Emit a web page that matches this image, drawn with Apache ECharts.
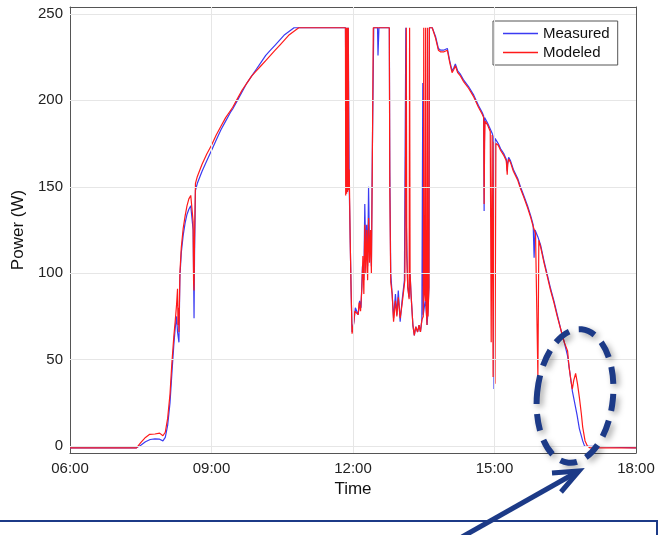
<!DOCTYPE html>
<html>
<head>
<meta charset="utf-8">
<script src="https://cdn.jsdelivr.net/npm/echarts@6/dist/echarts.min.js"></script>
<style>
html,body{margin:0;padding:0;background:#fff;}
#chart{width:662px;height:535px;}
</style>
</head>
<body>
<div id="chart"></div>
<script>
// ---- data (hour of day, power W) ----
const seriesNames = ['Measured', 'Modeled'];
const xTicks = [6, 9, 12, 15, 18];
const xTickLabels = ['06:00', '09:00', '12:00', '15:00', '18:00'];
const yTicks = [0, 50, 100, 150, 200, 250];

const measured = [
  [6.00,-1],[7.41,-1],[7.50,0.5],[7.60,2.5],[7.70,3.8],[7.80,4.2],[7.90,4.0],[7.97,3],[8.02,5],[8.07,12],
  [8.12,25],[8.16,42],[8.20,58],[8.23,68],[8.26,75],[8.28,66],[8.30,62],[8.31,60],[8.33,98],[8.36,112],
  [8.40,122],[8.44,129],[8.48,134],[8.52,137],[8.56,139],[8.59,140],[8.61,125],[8.62,100],[8.63,74],[8.64,110],
  [8.66,148],[8.70,152],[8.80,159],[8.90,165],[9.00,171],[9.10,177],[9.20,183],[9.30,188],[9.40,193],[9.45,195],
  [9.55,200],[9.65,205],[9.75,210],[9.85,214],[9.95,218],[10.05,222],[10.15,226],[10.25,229],[10.35,232],[10.45,235],
  [10.55,238],[10.65,240],[10.75,242],[11.84,242],
  [11.85,242],[11.86,150],[11.87,242],[11.89,170],[11.90,242],[11.92,150],[11.94,120],[11.96,90],[11.98,66],[12.02,72],
  [12.05,80],[12.08,78],[12.11,76],[12.14,84],[12.17,80],[12.20,104],[12.23,96],[12.25,140],[12.27,112],[12.29,128],
  [12.31,104],[12.33,150],[12.35,115],[12.37,122],[12.39,104],[12.41,170],[12.44,242],[12.52,242],[12.53,226],[12.55,242],
  [12.77,242],[12.78,160],[12.80,100],[12.83,88],[12.86,74],[12.90,88],[12.93,76],[12.96,90],[13.00,72],[13.04,84],
  [13.09,96],[13.12,242],[13.13,130],[13.16,92],[13.19,86],[13.21,100],[13.23,88],[13.27,70],[13.30,64],[13.33,69],
  [13.37,66],[13.40,70],[13.43,66],[13.46,73],[13.48,210],[13.49,76],[13.53,84],[13.55,80],[13.57,70],[13.59,78],
  [13.61,92],[13.62,242],[13.68,242],[13.75,237],[13.81,230],[13.86,229],[13.92,229],[13.96,230],[14.00,230],[14.05,223],
  [14.10,217],[14.14,219],[14.17,221],[14.22,217],[14.28,215],[14.34,212],[14.45,208],[14.56,203],[14.66,197],[14.74,193],
  [14.77,191],[14.78,136],[14.79,190],[14.85,187],[14.90,184],[14.95,181],[14.97,179],[14.99,33],[15.01,178],[15.03,177],
  [15.08,175],[15.13,172],[15.20,169],[15.25,166],[15.27,159],[15.28,164],[15.30,167],[15.34,165],[15.40,160],[15.49,155],
  [15.55,150],[15.62,145],[15.70,139],[15.77,133],[15.82,128],[15.84,109],[15.86,125],[15.92,121],[15.95,121],[15.98,116],
  [16.05,107],[16.12,99],[16.19,91],[16.26,84],[16.33,76],[16.41,67],[16.48,60],[16.55,52],[16.60,42],[16.65,32],
  [16.70,25],[16.75,18],[16.80,10],[16.87,3],[16.91,0],[16.95,-1],[18.00,-1]
];

const modeled = [
  [6.00,-1],[7.41,-1],[7.50,2],[7.60,5],[7.69,6.8],[7.80,7],[7.90,7.5],[7.97,6],[8.02,8],[8.07,16],
  [8.12,30],[8.16,48],[8.20,63],[8.23,72],[8.26,82],[8.28,91],[8.29,70],[8.30,80],[8.31,66],[8.33,100],
  [8.36,115],[8.40,126],[8.44,133],[8.48,139],[8.52,143],[8.56,145],[8.59,146],[8.61,130],[8.62,95],[8.63,90],
  [8.64,120],[8.66,152],[8.70,156],[8.80,163],[8.90,169],[9.00,174],[9.10,180],[9.20,185],[9.30,190],[9.40,194],
  [9.45,196],[9.55,201],[9.65,206],[9.75,210],[9.85,214],[9.95,217],[10.05,220],[10.15,223],[10.25,226],[10.35,229],
  [10.45,232],[10.55,235],[10.65,238],[10.75,240],[10.85,242],[11.84,242],
  [11.845,145],[11.85,242],[11.855,150],[11.86,242],[11.865,146],[11.87,242],[11.875,155],[11.88,242],[11.885,147],[11.89,242],
  [11.895,150],[11.90,242],[11.91,148],[11.92,160],[11.94,120],[11.96,90],[11.98,65],[12.01,70],[12.04,78],[12.08,79],
  [12.11,76],[12.13,83],[12.16,78],[12.19,92],[12.21,110],[12.23,88],[12.25,128],[12.27,100],[12.29,125],[12.31,96],
  [12.33,132],[12.35,106],[12.37,125],[12.39,100],[12.41,165],[12.43,242],[12.77,242],[12.78,150],[12.80,95],[12.83,88],
  [12.86,72],[12.90,84],[12.93,75],[12.96,86],[13.00,74],[13.04,82],[13.10,96],[13.13,242],[13.14,110],[13.16,92],
  [13.19,85],[13.20,242],[13.21,100],[13.23,88],[13.27,70],[13.30,64],[13.33,69],[13.37,66],[13.40,70],[13.43,66],
  [13.46,73],[13.49,75],[13.50,242],[13.51,90],[13.53,84],[13.54,242],[13.55,80],[13.57,70],[13.58,242],[13.59,75],
  [13.61,92],[13.62,242],[13.68,242],[13.75,236],[13.81,229],[13.86,228],[13.92,228],[13.96,229],[14.00,229],[14.05,222],
  [14.10,216],[14.14,218],[14.17,220],[14.22,216],[14.28,214],[14.34,211],[14.45,207],[14.56,202],[14.66,196],[14.74,192],
  [14.77,190],[14.78,140],[14.79,175],[14.80,188],[14.85,186],[14.91,182],[14.93,60],[14.95,180],[14.97,40],[14.99,176],
  [15.01,36],[15.03,175],[15.08,174],[15.13,171],[15.20,168],[15.25,165],[15.27,157],[15.28,163],
  [15.30,166],[15.34,164],[15.40,159],[15.49,154],[15.55,149],[15.62,144],[15.70,138],[15.77,132],[15.82,127],[15.87,123],
  [15.90,122],[15.92,40],[15.94,119],[15.96,120],[15.98,115],[16.05,106],[16.12,98],[16.19,90],
  [16.26,83],[16.33,75],[16.41,67],[16.48,60],[16.55,55],[16.58,46],[16.62,38],[16.65,33],[16.68,38],[16.72,42],
  [16.76,36],[16.80,28],[16.84,19],[16.87,11],[16.92,3],[16.97,0],[17.02,-1],[18.00,-1]
];

const FONT = 'Liberation Sans, Arial, sans-serif';
const AXIS_COLOR = '#555';
const GRID_COLOR = '#e6e6e6';
const NAVY = '#1c3a87';
const BLUE = '#3b3bf2';
const RED = '#ff1a1a';

const chart = echarts.init(document.getElementById('chart'), null, {renderer: 'canvas'});

const baseX = {
  type: 'value', min: 6, max: 18, interval: 3,
  axisLine: {show: true, onZero: false, lineStyle: {color: AXIS_COLOR, width: 1}},
  axisTick: {show: true, inside: true, length: 5, lineStyle: {color: AXIS_COLOR}},
  splitLine: {show: false}
};
const baseY = {
  type: 'value', min: -4, max: 254,
  axisLine: {show: true, onZero: false, lineStyle: {color: AXIS_COLOR, width: 1}},
  axisTick: {show: true, inside: true, length: 5, customValues: yTicks, lineStyle: {color: AXIS_COLOR}},
  splitLine: {show: false}
};

const option = {
  backgroundColor: '#fff',
  animation: false,
  textStyle: {fontFamily: FONT},
  grid: {left: 70, right: 26, top: 7, bottom: 82, containLabel: false},
  legend: {
    data: seriesNames,
    orient: 'vertical', left: 493, top: 21,
    padding: [5, 8, 5, 10], itemGap: 4,
    itemWidth: 35, itemHeight: 1.5, icon: 'rect',
    borderColor: '#555', borderWidth: 1, backgroundColor: '#fff',
    textStyle: {fontFamily: FONT, fontSize: 15, color: '#111'}
  },
  xAxis: [
    Object.assign({}, baseX, {
      position: 'bottom',
      name: 'Time', nameLocation: 'middle', nameGap: 24,
      nameTextStyle: {fontFamily: FONT, fontSize: 17, color: '#111'},
      axisLabel: {show: true, margin: 8, fontFamily: FONT, fontSize: 15, color: '#222',
        formatter: v => { const i = xTicks.indexOf(v); return i >= 0 ? xTickLabels[i] : ''; }}
    }),
    Object.assign({}, baseX, {position: 'top', axisLabel: {show: false}})
  ],
  yAxis: [
    Object.assign({}, baseY, {
      position: 'left',
      name: 'Power (W)', nameLocation: 'middle', nameGap: 30,
      nameTextStyle: {fontFamily: FONT, fontSize: 17, color: '#111'},
      axisLabel: {show: true, margin: 7, fontFamily: FONT, fontSize: 15, color: '#222', customValues: yTicks}
    }),
    Object.assign({}, baseY, {position: 'right', axisLabel: {show: false, customValues: yTicks}})
  ],
  series: [
    {
      name: '__grid', type: 'line', data: [], z: 0, silent: true,
      markLine: {
        silent: true, symbol: 'none', animation: false,
        label: {show: false},
        lineStyle: {color: GRID_COLOR, type: 'solid', width: 1},
        data: yTicks.map(v => ({yAxis: v})).concat(xTicks.slice(1, -1).map(v => ({xAxis: v})))
      }
    },
    {
      name: seriesNames[0], type: 'line', data: measured, showSymbol: false, z: 3,
      lineStyle: {color: BLUE, width: 1.2}, itemStyle: {color: BLUE}
    },
    {
      name: seriesNames[1], type: 'line', data: modeled, showSymbol: false, z: 4,
      lineStyle: {color: RED, width: 1.2}, itemStyle: {color: RED}
    }
  ],
  graphic: [
    {
      type: 'ellipse', z: 100,
      x: 575, y: 396, rotation: -0.1,
      shape: {cx: 0, cy: 0, rx: 38, ry: 67},
      style: {fill: 'none', stroke: NAVY, lineWidth: 6, lineDash: [17, 10],
        shadowColor: 'rgba(0,0,0,0.35)', shadowBlur: 6, shadowOffsetX: 3, shadowOffsetY: 3}
    },
    {
      type: 'polyline', z: 100,
      shape: {points: [[462, 537], [577, 472]]},
      style: {stroke: NAVY, lineWidth: 5, fill: 'none'}
    },
    {
      type: 'polyline', z: 100,
      shape: {points: [[552, 473], [579, 471], [561, 492]]},
      style: {stroke: NAVY, lineWidth: 5, fill: 'none', lineJoin: 'miter'}
    },
    {
      type: 'rect', z: 99,
      shape: {x: -5, y: 521, width: 662, height: 40},
      style: {fill: 'none', stroke: NAVY, lineWidth: 2}
    }
  ]
};
chart.setOption(option);
</script>
</body>
</html>
